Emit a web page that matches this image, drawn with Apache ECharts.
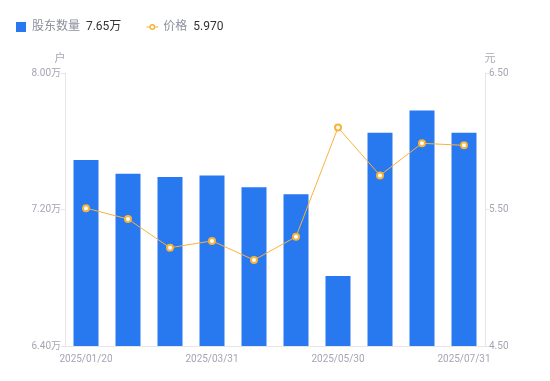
<!DOCTYPE html>
<html><head><meta charset="utf-8">
<script src="https://cdn.jsdelivr.net/npm/echarts@6/dist/echarts.min.js"></script>
<style>html,body{margin:0;padding:0;background:#fff}#c{width:550px;height:381px}</style>
</head><body><div id="c"></div>
<script>
const categories = ['2025/01/20','2025/02/20','2025/03/10','2025/03/31','2025/04/18','2025/04/30','2025/05/30','2025/06/20','2025/06/30','2025/07/31'];
const holders = [7.49, 7.41, 7.39, 7.40, 7.33, 7.29, 6.81, 7.65, 7.78, 7.65];
const prices = [5.51, 5.43, 5.22, 5.27, 5.13, 5.30, 6.10, 5.75, 5.985, 5.970];
const leftTicks = {min: 6.4, max: 8.0, interval: 0.8};
const rightTicks = {min: 4.5, max: 6.5, interval: 1.0};

const chart = echarts.init(document.getElementById('c'));
const labelColor = '#a4a6b3';
const orange = '#f7b33b';
const font = 'Roboto, "Noto Sans CJK SC", sans-serif';
const lineIcon = 'path://M0,4.5H3.2V5.5H0Z M8.8,4.5H12V5.5H8.8Z M3,5A3,3 0 1 1 9,5A3,3 0 1 1 3,5Z M4.5,5A1.5,1.5 0 1 0 7.5,5A1.5,1.5 0 1 0 4.5,5Z';
chart.setOption({
  animation: false,
  textStyle: {fontFamily: font},
  legend: {
    left: 11, top: 16, itemGap: 25, itemWidth: 12, itemHeight: 10,
    symbolKeepAspect: true,
    data: [
      {name: '股东数量', icon: 'path://M0,0H10V10H0Z'},
      {name: '价格', icon: lineIcon, itemStyle: {color: orange, borderWidth: 0}}
    ],
    formatter: function (name) {
      if (name === '股东数量') return '{n|' + name + '}  {v|' + holders[holders.length-1].toFixed(2) + '万}';
      return '{n|' + name + '}  {v|' + prices[prices.length-1].toFixed(3) + '}';
    },
    textStyle: {
      fontFamily: font,
      rich: {
        n: {color: '#8c8f9c', fontSize: 12, fontFamily: font},
        v: {color: '#333', fontSize: 12, fontFamily: font}
      }
    }
  },
  grid: {left: 65, right: 65, top: 73, bottom: 35},
  xAxis: {
    type: 'category', data: categories,
    axisLine: {lineStyle: {color: '#e6e6e6'}},
    axisTick: {show: false},
    axisLabel: {
      color: labelColor, fontSize: 10, margin: 8,
      interval: function (i) { return i % 3 === 0; },
      showMinLabel: true, showMaxLabel: true
    }
  },
  yAxis: [
    {
      type: 'value', name: '户', min: leftTicks.min, max: leftTicks.max, interval: leftTicks.interval,
      nameTextStyle: {color: labelColor, fontSize: 11, padding: [0, 10, 0, 0]},
      nameGap: 8,
      axisLine: {show: true, lineStyle: {color: '#e6e6e6'}},
      axisTick: {show: true, length: 4, lineStyle: {color: '#e6e6e6'}},
      splitLine: {show: false},
      axisLabel: {color: labelColor, fontSize: 10, margin: 4, formatter: v => v.toFixed(2) + '万'}
    },
    {
      type: 'value', name: '元', min: rightTicks.min, max: rightTicks.max, interval: rightTicks.interval,
      nameTextStyle: {color: labelColor, fontSize: 11, padding: [0, 0, 0, 10]},
      nameGap: 8,
      axisLine: {show: true, lineStyle: {color: '#e6e6e6'}},
      axisTick: {show: true, length: 4, lineStyle: {color: '#e6e6e6'}},
      splitLine: {show: false},
      axisLabel: {color: labelColor, fontSize: 10, margin: 4, formatter: v => v.toFixed(2)}
    }
  ],
  series: [
    {
      name: '股东数量', type: 'bar', yAxisIndex: 0, data: holders, barWidth: 25,
      itemStyle: {color: '#2878f0'}
    },
    {
      name: '价格', type: 'line', yAxisIndex: 1, data: prices,
      symbol: 'circle', symbolSize: 6,
      lineStyle: {color: orange, width: 1},
      itemStyle: {color: '#fff', borderColor: orange, borderWidth: 2}
    }
  ]
});
</script></body></html>
